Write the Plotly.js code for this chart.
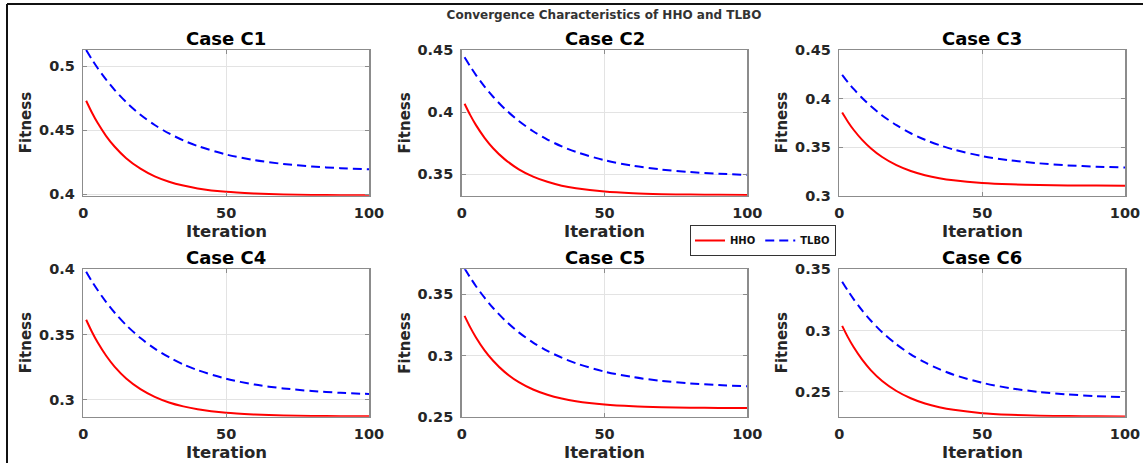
<!DOCTYPE html>
<html>
<head>
<meta charset="utf-8">
<script src="https://cdn.plot.ly/plotly-3.0.1.min.js"></script>
<style>html,body{margin:0;padding:0;background:#fff;}#chart{width:1143px;height:463px;}</style>
</head>
<body>
<div id="chart"></div>
<script>
// ---- data ----
const iterations = [1, 3, 5, 8, 11, 15, 20, 25, 30, 35, 40, 50, 60, 70, 80, 90, 100];
const caseNames = ['Case C1', 'Case C2', 'Case C3', 'Case C4', 'Case C5', 'Case C6'];
const seriesNames = ['HHO', 'TLBO'];

const hhoC1  = [0.4729, 0.4637, 0.4556, 0.4453, 0.4369, 0.4280, 0.4198, 0.4138, 0.4096, 0.4066, 0.4044, 0.4017, 0.4004, 0.3996, 0.3993, 0.3991, 0.3990];
const tlboC1 = [0.5125, 0.5052, 0.4984, 0.4893, 0.4812, 0.4718, 0.4619, 0.4539, 0.4473, 0.4419, 0.4375, 0.4309, 0.4265, 0.4235, 0.4215, 0.4202, 0.4193];
const hhoC2  = [0.4067, 0.3975, 0.3894, 0.3792, 0.3708, 0.3620, 0.3538, 0.3479, 0.3437, 0.3406, 0.3385, 0.3358, 0.3344, 0.3337, 0.3334, 0.3332, 0.3331];
const tlboC2 = [0.4441, 0.4367, 0.4298, 0.4205, 0.4123, 0.4027, 0.3927, 0.3845, 0.3778, 0.3723, 0.3678, 0.3611, 0.3566, 0.3536, 0.3516, 0.3502, 0.3493];
const hhoC3  = [0.3856, 0.3762, 0.3679, 0.3575, 0.3489, 0.3398, 0.3314, 0.3254, 0.3211, 0.3180, 0.3158, 0.3131, 0.3117, 0.3110, 0.3106, 0.3104, 0.3103];
const tlboC3 = [0.4243, 0.4168, 0.4099, 0.4006, 0.3923, 0.3826, 0.3726, 0.3643, 0.3576, 0.3521, 0.3475, 0.3408, 0.3363, 0.3333, 0.3312, 0.3299, 0.3290];
const hhoC4  = [0.3613, 0.3521, 0.3440, 0.3337, 0.3252, 0.3163, 0.3081, 0.3022, 0.2979, 0.2949, 0.2927, 0.2900, 0.2887, 0.2879, 0.2876, 0.2874, 0.2873];
const tlboC4 = [0.3982, 0.3908, 0.3841, 0.3749, 0.3667, 0.3572, 0.3473, 0.3392, 0.3326, 0.3271, 0.3227, 0.3161, 0.3116, 0.3087, 0.3067, 0.3053, 0.3044];
const hhoC5  = [0.3323, 0.3229, 0.3147, 0.3042, 0.2957, 0.2866, 0.2782, 0.2722, 0.2679, 0.2648, 0.2626, 0.2599, 0.2585, 0.2578, 0.2574, 0.2572, 0.2571];
const tlboC5 = [0.3710, 0.3635, 0.3565, 0.3471, 0.3387, 0.3290, 0.3188, 0.3105, 0.3037, 0.2982, 0.2936, 0.2868, 0.2823, 0.2792, 0.2772, 0.2758, 0.2749];
const hhoC6  = [0.3038, 0.2946, 0.2865, 0.2762, 0.2677, 0.2588, 0.2506, 0.2447, 0.2404, 0.2374, 0.2352, 0.2325, 0.2312, 0.2304, 0.2301, 0.2299, 0.2298];
const tlboC6 = [0.3399, 0.3325, 0.3257, 0.3164, 0.3082, 0.2986, 0.2887, 0.2805, 0.2739, 0.2684, 0.2639, 0.2573, 0.2528, 0.2498, 0.2478, 0.2464, 0.2455];

const xTicks = [0, 50, 100];
const yTicksC1 = [0.4, 0.45, 0.5];
const yTicksC2 = [0.35, 0.4, 0.45];
const yTicksC3 = [0.3, 0.35, 0.4, 0.45];
const yTicksC4 = [0.3, 0.35, 0.4];
const yTicksC5 = [0.25, 0.3, 0.35];
const yTicksC6 = [0.25, 0.3, 0.35];

const chartTitle = 'Convergence Characteristics of HHO and TLBO';
const xTitle = 'Iteration';
const yTitle = 'Fitness';

// ---- layout helpers ----
const W = 1143, H = 463;
const px = v => v / W;
const py = v => 1 - v / H;
const FONT = 'DejaVu Sans, Liberation Sans, Arial, sans-serif';

const hhoAll = [hhoC1, hhoC2, hhoC3, hhoC4, hhoC5, hhoC6];
const tlboAll = [tlboC1, tlboC2, tlboC3, tlboC4, tlboC5, tlboC6];
const yTicksAll = [yTicksC1, yTicksC2, yTicksC3, yTicksC4, yTicksC5, yTicksC6];
const yRanges = [[0.3987, 0.5125], [0.3325, 0.45], [0.3, 0.45], [0.287, 0.4], [0.25, 0.3703], [0.2296, 0.35]];

const colsPx = [[83.3, 369], [461.7, 747.3], [839.3, 1125]];
const rowsPx = [[50, 195.7], [269.3, 416.7]];

const traces = [];
const layout = {
  width: W, height: H,
  margin: {l: 0, r: 0, t: 0, b: 0},
  paper_bgcolor: '#ffffff',
  plot_bgcolor: '#ffffff',
  showlegend: true,
  title: {
    text: chartTitle,
    font: {family: FONT, size: 12, color: '#333333', weight: 'bold'},
    x: px(604), xref: 'paper', xanchor: 'center',
    y: py(15), yref: 'container', yanchor: 'middle'
  },
  legend: {
    orientation: 'h',
    x: px(690), y: py(225), xanchor: 'left', yanchor: 'top',
    bgcolor: '#ffffff', bordercolor: '#333333', borderwidth: 1,
    font: {family: FONT, size: 10, color: '#111111', weight: 'bold'},
    itemwidth: 30, tracegroupgap: 0, itemclick: false
  },
  annotations: [],
  shapes: [
    {type: 'line', xref: 'paper', yref: 'paper', x0: px(7), x1: 1, y0: py(4), y1: py(4), line: {color: '#111', width: 2}},
    {type: 'line', xref: 'paper', yref: 'paper', x0: px(7), x1: px(7), y0: py(4), y1: 0, line: {color: '#111', width: 2}}
  ]
};

for (let i = 0; i < 6; i++) {
  const r = Math.floor(i / 3), c = i % 3;
  const n = i + 1;
  const xa = 'x' + (n === 1 ? '' : n), ya = 'y' + (n === 1 ? '' : n);
  const xk = 'xaxis' + (n === 1 ? '' : n), yk = 'yaxis' + (n === 1 ? '' : n);
  const [x0, x1] = colsPx[c];
  const [y0, y1] = rowsPx[r];

  traces.push({
    x: iterations, y: hhoAll[i], xaxis: xa, yaxis: ya, type: 'scatter', mode: 'lines',
    name: seriesNames[0], showlegend: i === 0, legendgroup: 'hho',
    line: {color: '#ff0000', width: 2, shape: 'spline', smoothing: 0.8}
  });
  traces.push({
    x: iterations, y: tlboAll[i], xaxis: xa, yaxis: ya, type: 'scatter', mode: 'lines',
    name: seriesNames[1], showlegend: i === 0, legendgroup: 'tlbo',
    line: {color: '#0000ff', width: 2, dash: '9px,5px', shape: 'spline', smoothing: 0.8}
  });

  const axCommon = {
    showline: true, linecolor: '#8c8c8c', linewidth: 1.5, mirror: 'ticks',
    ticks: 'inside', ticklen: 4, tickcolor: '#8c8c8c', tickwidth: 1,
    showgrid: true, gridcolor: '#e3e3e3', gridwidth: 1, zeroline: false,
    tickfont: {family: FONT, size: 14.5, color: '#262626', weight: 'bold'},
    ticklabelstandoff: 4, fixedrange: true
  };
  layout[xk] = Object.assign({}, axCommon, {
    domain: [px(x0), px(x1)], anchor: ya, range: [0, 100],
    tickmode: 'array', tickvals: xTicks, ticklabelstandoff: 3
  });
  layout[yk] = Object.assign({}, axCommon, {
    domain: [py(y1), py(y0)], anchor: xa, range: yRanges[i],
    tickmode: 'array', tickvals: yTicksAll[i]
  });

  const cx = (x0 + x1) / 2;
  layout.annotations.push({
    text: caseNames[i], xref: 'paper', yref: 'paper', x: px(cx), y: py(y0 - 12),
    xanchor: 'center', yanchor: 'middle', showarrow: false,
    font: {family: FONT, size: 18, color: '#000000', weight: 'bold'}
  });
  layout.annotations.push({
    text: xTitle, xref: 'paper', yref: 'paper', x: px(cx), y: py(y1 + 36),
    xanchor: 'center', yanchor: 'middle', showarrow: false,
    font: {family: FONT, size: 16.5, color: '#262626', weight: 'bold'}
  });
  layout.annotations.push({
    text: yTitle, xref: 'paper', yref: 'paper', x: px(x0 - 57), y: py((y0 + y1) / 2),
    xanchor: 'center', yanchor: 'middle', showarrow: false, textangle: -90,
    font: {family: FONT, size: 15, color: '#262626', weight: 'bold'}
  });
}

Plotly.newPlot('chart', traces, layout, {displayModeBar: false, staticPlot: true});
</script>
</body>
</html>
